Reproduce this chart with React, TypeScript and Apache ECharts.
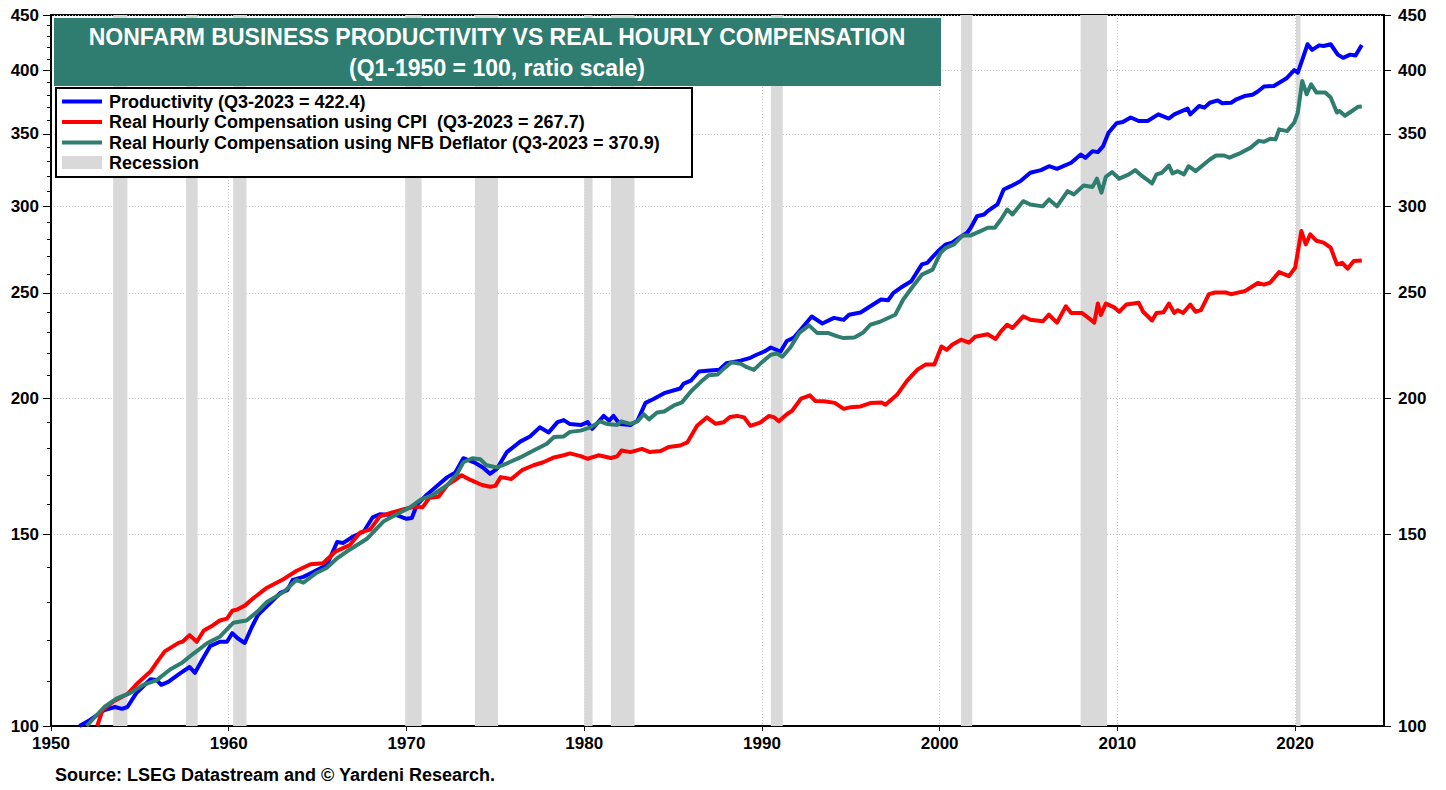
import React, { useEffect, useRef } from "react";
import * as echarts from "echarts";

const TITLE = "NONFARM BUSINESS PRODUCTIVITY VS REAL HOURLY COMPENSATION";
const SUBTITLE = "(Q1-1950 = 100, ratio scale)";
const SOURCE = "Source: LSEG Datastream and © Yardeni Research.";

const seriesNames = [
  "Productivity (Q3-2023 = 422.4)",
  "Real Hourly Compensation using CPI  (Q3-2023 = 267.7)",
  "Real Hourly Compensation using NFB Deflator (Q3-2023 = 370.9)",
];
const recessionLabel = "Recession";

const yTickValues = [100, 150, 200, 250, 300, 350, 400, 450];
const yMinorTickValues = [
  100, 110, 120, 130, 140, 150, 160, 170, 180, 190, 200, 210, 220, 230, 240, 250, 260, 270, 280, 290,
  300, 310, 320, 330, 340, 350, 360, 370, 380, 390, 400, 410, 420, 430, 440, 450,
];
const xLabelMax = 2020;

const recessions: [number, number][] = [
  [1953.5, 1954.3],
  [1957.6, 1958.25],
  [1960.25, 1961.0],
  [1969.93, 1970.85],
  [1973.85, 1975.15],
  [1980.0, 1980.47],
  [1981.5, 1982.83],
  [1990.5, 1991.17],
  [2001.2, 2001.83],
  [2007.93, 2009.42],
  [2020.05, 2020.3],
];

const productivity: [number, number][] = [
  [1951.6, 100.0], [1952.2, 101.3], [1953.0, 103.4], [1953.6, 104.1], [1954.0, 103.7], [1954.3, 104.1],
  [1954.8, 107.2], [1955.6, 110.4], [1955.95, 110.2], [1956.2, 109.1], [1956.6, 109.8], [1957.3, 111.9],
  [1957.8, 113.3], [1958.1, 111.9], [1958.5, 115.0], [1958.95, 118.4], [1959.5, 119.5], [1959.9, 119.5],
  [1960.2, 121.7], [1960.5, 120.4], [1960.9, 119.2], [1961.3, 123.3], [1961.65, 126.5], [1962.1, 128.6],
  [1962.9, 132.5], [1963.3, 133.3], [1963.6, 136.2], [1964.2, 137.1], [1964.75, 138.5], [1965.3, 140.0],
  [1965.6, 141.5], [1966.1, 147.6], [1966.45, 147.3], [1967.0, 149.3], [1967.6, 150.9], [1968.1, 155.5],
  [1968.5, 156.5], [1969.45, 156.2], [1970.0, 155.0], [1970.3, 155.3], [1970.6, 159.8], [1971.15, 163.1],
  [1971.6, 165.5], [1972.3, 169.3], [1972.75, 171.0], [1973.2, 176.2], [1973.8, 174.7], [1974.3, 172.8],
  [1974.7, 170.5], [1975.1, 172.4], [1975.65, 178.5], [1976.4, 182.5], [1976.95, 184.5], [1977.5, 188.1],
  [1978.0, 186.1], [1978.5, 190.2], [1978.85, 191.0], [1979.2, 189.4], [1979.8, 189.0], [1980.2, 190.2],
  [1980.45, 187.5], [1981.1, 192.7], [1981.4, 190.8], [1981.65, 192.7], [1982.0, 189.4], [1982.6, 189.0],
  [1983.0, 190.8], [1983.45, 198.1], [1983.9, 199.7], [1984.5, 202.2], [1985.4, 204.2], [1985.6, 206.3],
  [1986.0, 207.6], [1986.45, 211.7], [1986.9, 212.0], [1987.6, 212.5], [1988.0, 215.4], [1988.8, 216.6],
  [1989.35, 217.9], [1989.7, 219.3], [1990.2, 221.1], [1990.5, 222.7], [1991.05, 220.8], [1991.4, 225.8],
  [1991.8, 227.4], [1992.2, 231.5], [1992.8, 237.8], [1993.4, 234.3], [1994.05, 237.1], [1994.6, 236.1],
  [1994.9, 238.7], [1995.55, 239.8], [1996.1, 243.0], [1996.7, 246.5], [1997.1, 246.1], [1997.4, 250.0],
  [1997.8, 252.7], [1998.4, 256.2], [1999.0, 265.5], [1999.3, 266.4], [1999.9, 273.0], [2000.35, 277.0],
  [2000.7, 278.0], [2001.1, 280.9], [2001.55, 283.9], [2001.75, 286.9], [2002.1, 294.0], [2002.5, 295.1],
  [2002.7, 297.2], [2003.25, 301.4], [2003.6, 311.1], [2004.0, 313.3], [2004.55, 316.7], [2005.1, 322.3],
  [2005.7, 324.1], [2006.15, 326.8], [2006.6, 325.0], [2007.4, 329.2], [2007.94, 335.0], [2008.2, 332.6],
  [2008.6, 337.4], [2008.9, 336.7], [2009.2, 341.0], [2009.5, 350.8], [2009.95, 357.9], [2010.3, 358.8],
  [2010.75, 362.3], [2011.2, 359.6], [2011.7, 359.6], [2012.3, 364.7], [2012.9, 361.5], [2013.2, 364.7],
  [2013.95, 369.2], [2014.1, 364.7], [2014.6, 371.2], [2014.9, 369.9], [2015.2, 373.8], [2015.65, 375.6],
  [2015.9, 373.4], [2016.4, 373.8], [2016.7, 376.5], [2017.15, 379.1], [2017.6, 380.2], [2017.9, 382.8],
  [2018.25, 386.8], [2018.8, 387.3], [2019.5, 393.4], [2019.95, 400.5], [2020.15, 398.3], [2020.4, 409.3],
  [2020.7, 423.0], [2020.96, 418.0], [2021.35, 422.0], [2021.6, 421.4], [2022.0, 423.0], [2022.4, 413.8],
  [2022.7, 411.0], [2023.1, 413.8], [2023.4, 413.0], [2023.75, 422.4],
];

const compensationCPI: [number, number][] = [
  [1952.6, 100.0], [1952.9, 103.4], [1953.5, 105.3], [1954.3, 107.0], [1954.9, 109.6], [1955.6, 112.2],
  [1956.0, 114.7], [1956.4, 117.1], [1957.2, 119.3], [1957.4, 119.5], [1957.8, 121.2], [1958.2, 119.5],
  [1958.6, 122.4], [1959.1, 123.7], [1959.5, 125.0], [1959.9, 125.5], [1960.2, 127.6], [1960.5, 128.0],
  [1960.9, 129.0], [1961.4, 131.1], [1962.1, 133.8], [1963.1, 136.5], [1963.8, 138.8], [1964.6, 140.8],
  [1965.3, 141.1], [1966.0, 144.6], [1966.8, 146.6], [1967.4, 150.6], [1967.95, 151.5], [1968.5, 155.8],
  [1969.2, 157.1], [1969.8, 158.1], [1970.5, 159.1], [1970.9, 158.8], [1971.3, 162.1], [1971.8, 162.4],
  [1972.3, 166.5], [1972.75, 168.3], [1973.1, 170.0], [1973.6, 168.3], [1974.25, 166.5], [1974.7, 165.9],
  [1975.0, 166.2], [1975.3, 169.3], [1975.9, 168.6], [1976.5, 171.8], [1977.15, 173.6], [1977.7, 174.7],
  [1978.3, 176.5], [1978.85, 177.3], [1979.2, 178.0], [1979.8, 177.0], [1980.2, 176.0], [1980.8, 177.3],
  [1981.5, 176.3], [1981.85, 176.9], [1982.1, 179.1], [1982.6, 178.5], [1983.25, 179.7], [1983.7, 178.5],
  [1984.3, 178.9], [1984.75, 180.4], [1985.4, 181.0], [1985.8, 182.2], [1986.35, 188.7], [1986.9, 192.1],
  [1987.4, 189.5], [1987.85, 190.1], [1988.2, 192.3], [1988.6, 192.7], [1989.0, 192.1], [1989.35, 188.7],
  [1989.9, 190.0], [1990.4, 192.7], [1990.7, 192.1], [1990.95, 190.5], [1991.4, 193.4], [1991.7, 194.8],
  [1992.2, 199.9], [1992.7, 201.3], [1993.0, 198.9], [1993.5, 198.8], [1994.1, 198.1], [1994.6, 195.6],
  [1995.0, 196.3], [1995.55, 196.6], [1996.1, 198.0], [1996.75, 198.2], [1996.95, 197.3], [1997.6, 201.5],
  [1998.15, 207.4], [1998.75, 212.5], [1999.2, 214.8], [1999.7, 214.8], [2000.1, 223.2], [2000.4, 221.6],
  [2000.7, 224.0], [2001.2, 226.4], [2001.65, 225.0], [2002.0, 227.8], [2002.7, 229.0], [2003.15, 226.8],
  [2003.45, 230.4], [2003.8, 233.7], [2004.1, 232.1], [2004.7, 237.9], [2005.1, 236.2], [2005.8, 235.4],
  [2006.15, 238.7], [2006.6, 234.7], [2007.1, 243.0], [2007.4, 239.6], [2008.0, 239.6], [2008.5, 236.2],
  [2008.7, 234.7], [2008.9, 244.4], [2009.07, 238.6], [2009.35, 244.4], [2009.8, 242.6], [2010.1, 240.2],
  [2010.5, 243.9], [2010.9, 244.4], [2011.2, 244.8], [2011.45, 240.2], [2011.95, 235.8], [2012.2, 239.6],
  [2012.6, 240.0], [2012.9, 244.4], [2013.2, 239.6], [2013.4, 241.0], [2013.7, 239.6], [2014.1, 243.9],
  [2014.4, 240.2], [2014.7, 241.0], [2015.15, 249.3], [2015.5, 250.2], [2016.1, 250.2], [2016.4, 249.3],
  [2016.95, 250.5], [2017.15, 250.8], [2017.9, 255.3], [2018.25, 254.4], [2018.6, 255.5], [2019.1, 261.2],
  [2019.65, 259.0], [2020.0, 263.6], [2020.35, 284.9], [2020.6, 277.0], [2020.85, 282.9], [2021.2, 279.1],
  [2021.6, 278.0], [2022.0, 275.1], [2022.35, 265.5], [2022.65, 266.4], [2022.95, 263.1], [2023.3, 267.4],
  [2023.75, 267.7],
];

const compensationNFB: [number, number][] = [
  [1952.0, 100.0], [1953.0, 104.1], [1953.7, 106.0], [1954.45, 107.2], [1955.2, 109.1], [1955.95, 110.2],
  [1956.7, 112.7], [1957.4, 114.4], [1958.0, 116.5], [1958.8, 119.2], [1959.5, 120.8], [1960.25, 124.4],
  [1961.0, 125.0], [1961.6, 127.3], [1962.15, 130.0], [1963.1, 132.8], [1963.8, 136.2], [1964.2, 135.4],
  [1964.95, 138.3], [1965.5, 139.7], [1966.1, 142.6], [1966.8, 145.2], [1967.8, 148.7], [1968.7, 154.1],
  [1969.45, 156.5], [1970.2, 158.8], [1970.8, 161.4], [1971.5, 163.1], [1972.3, 166.5], [1972.85, 170.5],
  [1973.2, 174.7], [1973.7, 176.2], [1974.15, 175.8], [1974.5, 173.6], [1975.1, 172.8], [1975.65, 174.3],
  [1976.4, 176.5], [1977.15, 179.1], [1977.9, 181.7], [1978.3, 184.3], [1978.85, 184.5], [1979.2, 186.3],
  [1979.8, 186.8], [1980.35, 188.1], [1980.9, 190.5], [1981.3, 189.4], [1981.85, 189.0], [1982.1, 190.5],
  [1982.6, 189.5], [1983.0, 190.5], [1983.35, 193.4], [1983.65, 191.3], [1984.1, 194.1], [1984.5, 194.5],
  [1985.05, 197.0], [1985.5, 198.3], [1986.0, 202.9], [1986.55, 207.0], [1987.0, 210.0], [1987.5, 210.3],
  [1987.85, 213.0], [1988.3, 215.9], [1988.8, 215.2], [1989.15, 213.6], [1989.55, 212.4], [1990.0, 215.9],
  [1990.5, 219.3], [1990.85, 219.9], [1991.15, 218.4], [1991.6, 222.7], [1992.1, 229.7], [1992.65, 233.4],
  [1993.1, 229.7], [1993.7, 229.7], [1994.25, 228.0], [1994.6, 227.2], [1995.2, 227.5], [1995.7, 229.9],
  [1996.1, 233.7], [1996.7, 235.4], [1997.5, 238.7], [1997.95, 246.5], [1998.5, 253.5], [1999.0, 259.8],
  [1999.6, 262.6], [2000.05, 272.1], [2000.35, 275.0], [2000.8, 277.0], [2001.3, 282.3], [2001.75, 282.3],
  [2002.3, 284.9], [2002.7, 286.9], [2003.1, 286.9], [2003.45, 292.0], [2003.8, 298.2], [2004.1, 295.1],
  [2004.7, 303.5], [2005.1, 301.4], [2005.8, 300.2], [2006.15, 304.6], [2006.6, 300.2], [2007.2, 310.0],
  [2007.55, 307.9], [2008.1, 313.8], [2008.6, 312.8], [2008.85, 318.3], [2009.1, 309.0], [2009.35, 319.6],
  [2009.7, 322.8], [2010.1, 318.3], [2010.65, 321.2], [2011.0, 324.1], [2011.4, 320.0], [2011.95, 315.1],
  [2012.2, 321.2], [2012.5, 322.3], [2012.9, 327.3], [2013.1, 321.9], [2013.4, 323.4], [2013.75, 321.2],
  [2014.0, 326.8], [2014.4, 323.4], [2015.2, 331.5], [2015.55, 334.3], [2016.0, 334.3], [2016.3, 332.8],
  [2016.95, 336.2], [2017.5, 339.9], [2017.95, 344.8], [2018.25, 344.1], [2018.6, 346.4], [2018.9, 345.9],
  [2019.1, 353.3], [2019.55, 352.0], [2019.95, 358.4], [2020.15, 366.1], [2020.4, 391.4], [2020.65, 380.5],
  [2020.9, 388.7], [2021.2, 381.9], [2021.7, 381.9], [2022.0, 377.9], [2022.35, 366.1], [2022.5, 367.3],
  [2022.8, 363.6], [2023.2, 367.3], [2023.55, 370.7], [2023.75, 370.9],
];

const FONT = "'Liberation Sans', Arial, Helvetica, sans-serif";
const BLUE = "#0000FF";
const RED = "#FF0000";
const TEAL = "#2E7D6F";
const TITLE_BG = "#2F7D70";
const REC_GRAY = "#D9D9D9";
const GRID_COLOR = "#C8C8C8";

export default function App() {
  const ref = useRef<HTMLDivElement>(null);

  useEffect(() => {
    document.body.style.margin = "0";
    if (!ref.current) return;
    const chart = echarts.init(ref.current, undefined, { renderer: "svg" });

    const labelStyle = {
      color: "#000",
      fontFamily: FONT,
      fontWeight: "bold" as const,
      fontSize: 17,
    };
    const yFormatter = (v: number) => String(Math.round(v));

    const legendRows = [
      { y: 101.5, color: BLUE, text: seriesNames[0] },
      { y: 122, color: RED, text: seriesNames[1] },
      { y: 142.5, color: TEAL, text: seriesNames[2] },
    ];

    const graphic: any[] = [
      {
        type: "rect",
        shape: { x: 54, y: 18, width: 887, height: 68 },
        style: { fill: TITLE_BG },
        z: 100,
      },
      {
        type: "text",
        x: 497,
        y: 37,
        style: {
          text: TITLE,
          fill: "#fff",
          font: `bold 23px ${FONT}`,
          textAlign: "center",
          textVerticalAlign: "middle",
        },
        z: 101,
      },
      {
        type: "text",
        x: 497,
        y: 68,
        style: {
          text: SUBTITLE,
          fill: "#fff",
          font: `bold 23px ${FONT}`,
          textAlign: "center",
          textVerticalAlign: "middle",
        },
        z: 101,
      },
      {
        type: "rect",
        shape: { x: 56, y: 88, width: 636, height: 89 },
        style: { fill: "#fff", stroke: "#000", lineWidth: 2 },
        z: 100,
      },
      ...legendRows.flatMap((r) => [
        {
          type: "line",
          shape: { x1: 62, y1: r.y, x2: 102, y2: r.y },
          style: { stroke: r.color, lineWidth: 4 },
          z: 101,
        },
        {
          type: "text",
          x: 109,
          y: r.y,
          style: {
            text: r.text,
            fill: "#000",
            font: `bold 18px ${FONT}`,
            textVerticalAlign: "middle",
          },
          z: 101,
        },
      ]),
      {
        type: "rect",
        shape: { x: 62, y: 156, width: 40, height: 13 },
        style: { fill: REC_GRAY },
        z: 101,
      },
      {
        type: "text",
        x: 109,
        y: 162.5,
        style: {
          text: recessionLabel,
          fill: "#000",
          font: `bold 18px ${FONT}`,
          textVerticalAlign: "middle",
        },
        z: 101,
      },
      {
        type: "text",
        x: 55,
        y: 775,
        style: {
          text: SOURCE,
          fill: "#000",
          font: `bold 18px ${FONT}`,
          textVerticalAlign: "middle",
        },
        z: 101,
      },
    ];

    const lineSeries = (name: string, data: [number, number][], color: string, z: number) => ({
      name,
      type: "line",
      data,
      xAxisIndex: 0,
      yAxisIndex: 0,
      symbol: "none",
      showSymbol: false,
      smooth: false,
      z,
      lineStyle: { color, width: 4, join: "round" },
      itemStyle: { color },
    });

    const option: any = {
      animation: false,
      backgroundColor: "#fff",
      grid: {
        left: 51,
        right: 62,
        top: 15,
        bottom: 64,
        show: true,
        borderColor: "#000",
        borderWidth: 2,
        backgroundColor: "transparent",
      },
      xAxis: {
        type: "value",
        min: 1950,
        max: 2025,
        interval: 10,
        axisLine: { show: true, onZero: false, lineStyle: { color: "#000", width: 2 } },
        axisTick: { show: true, length: 5, lineStyle: { color: "#000", width: 1 } },
        axisLabel: {
          ...labelStyle,
          margin: 9,
          showMaxLabel: false,
          formatter: (v: number) => (v <= xLabelMax ? String(v) : ""),
        },
        splitLine: { show: true, lineStyle: { color: GRID_COLOR, width: 1, type: [1, 2] } },
      },
      yAxis: [
        {
          type: "log",
          logBase: 10,
          min: 100,
          max: 450,
          position: "left",
          axisLine: { show: true, lineStyle: { color: "#000", width: 2 } },
          axisTick: { show: true, length: 8, customValues: yTickValues, lineStyle: { color: "#000", width: 1 } },
          axisLabel: { ...labelStyle, margin: 12, customValues: yTickValues, formatter: yFormatter },
          splitLine: { show: true, lineStyle: { color: GRID_COLOR, width: 1, type: [1, 2] } },
        },
        {
          type: "log",
          logBase: 10,
          min: 100,
          max: 450,
          position: "left",
          axisLine: { show: false },
          axisTick: { show: true, length: 4, customValues: yMinorTickValues, lineStyle: { color: "#000", width: 1 } },
          axisLabel: { show: false },
          splitLine: { show: false },
        },
        {
          type: "log",
          logBase: 10,
          min: 100,
          max: 450,
          position: "right",
          axisLine: { show: true, lineStyle: { color: "#000", width: 2 } },
          axisTick: { show: true, length: 7, customValues: yTickValues, lineStyle: { color: "#000", width: 1 } },
          axisLabel: { ...labelStyle, margin: 14, customValues: yTickValues, formatter: yFormatter },
          splitLine: { show: false },
        },
      ],
      series: [
        {
          ...lineSeries(seriesNames[0], productivity, BLUE, 3),
          markArea: {
            silent: true,
            z: 1,
            itemStyle: { color: REC_GRAY },
            data: recessions.map(([a, b]) => [{ xAxis: a }, { xAxis: b }]),
          },
        },
        lineSeries(seriesNames[1], compensationCPI, RED, 4),
        lineSeries(seriesNames[2], compensationNFB, TEAL, 5),
      ],
      graphic,
    };

    chart.setOption(option);
    return () => chart.dispose();
  }, []);

  return <div ref={ref} style={{ width: 1446, height: 790 }} />;
}
